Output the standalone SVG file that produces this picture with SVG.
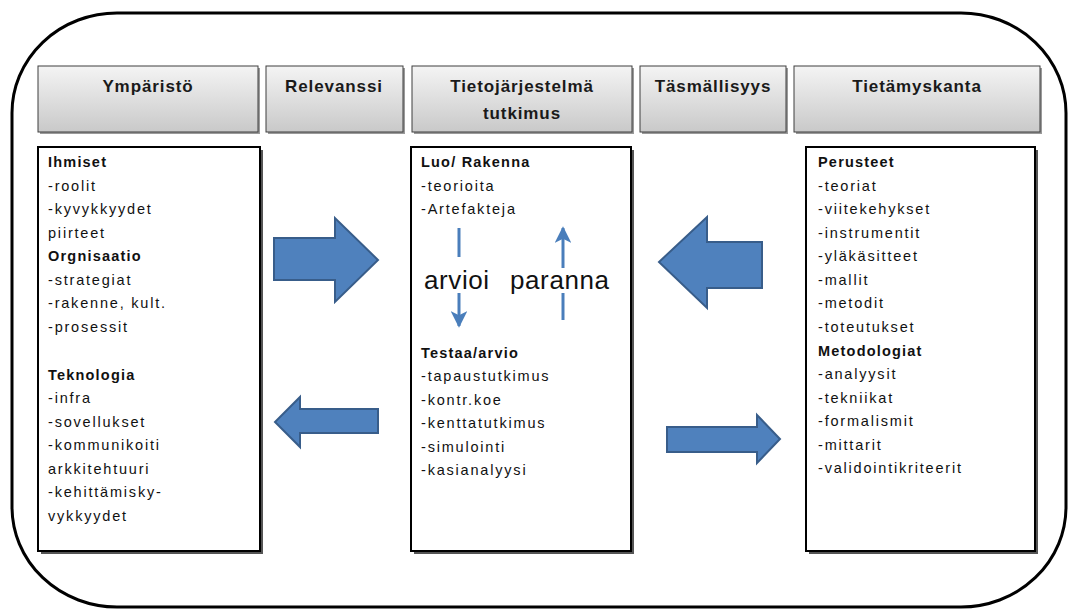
<svg xmlns="http://www.w3.org/2000/svg" width="1068" height="612" viewBox="0 0 1068 612">
  <defs>
    <linearGradient id="hdrFill" x1="0" y1="0" x2="0" y2="1">
      <stop offset="0" stop-color="#f4f4f4"/>
      <stop offset="1" stop-color="#c9c9c9"/>
    </linearGradient>
    <marker id="blueHead" viewBox="0 0 10 10" refX="9" refY="5" markerWidth="5.5" markerHeight="5.5" orient="auto" markerUnits="strokeWidth">
      <path d="M0,0 L10,5 L0,10 L2.5,5 z" fill="#4a7ebb"/>
    </marker>
  </defs>
  <style>
    .frame { fill: #ffffff; stroke: #000000; stroke-width: 3; }
    .hdr { fill: url(#hdrFill); stroke: #3f3f3f; stroke-width: 1; }
    .hdrShadow { fill: #9a9a9a; }
    .hdrText { font-family: "Liberation Sans", Arial, sans-serif; font-size: 17px; font-weight: bold; letter-spacing: 0.9px; fill: #1a1a1a; text-anchor: middle; }
    .box { fill: #ffffff; stroke: #000000; stroke-width: 2; }
    .boxShadow { fill: #555555; }
    .txt { font-family: "Liberation Sans", Arial, sans-serif; font-size: 14.5px; letter-spacing: 1.8px; fill: #111111; }
    .bold { font-weight: bold; letter-spacing: 1.2px; }
    .big { font-family: "Liberation Sans", Arial, sans-serif; font-size: 26px; letter-spacing: 0.6px; fill: #111111; }
    .blockArrow { fill: #4f81bd; stroke: #385d8a; stroke-width: 2; stroke-linejoin: miter; }
    .thinArrow { stroke: #4a7ebb; stroke-width: 3; fill: none; }
  </style>

  <!-- outer rounded frame -->
  <rect class="frame" x="12" y="13" width="1054" height="594" rx="105" ry="100"/>

  <!-- column headers -->
  <g id="hdr-ymparisto">
    <rect class="hdrShadow" x="40" y="68" width="220" height="66"/>
    <rect class="hdr" x="38" y="66" width="220" height="66"/>
    <text class="hdrText" x="148" y="92">Ympäristö</text>
  </g>
  <g id="hdr-relevanssi">
    <rect class="hdrShadow" x="268" y="68" width="137" height="66"/>
    <rect class="hdr" x="266" y="66" width="137" height="66"/>
    <text class="hdrText" x="334" y="92">Relevanssi</text>
  </g>
  <g id="hdr-tutkimus">
    <rect class="hdrShadow" x="414" y="68" width="220" height="66"/>
    <rect class="hdr" x="412" y="66" width="220" height="66"/>
    <text class="hdrText" x="522" y="92">Tietojärjestelmä</text>
    <text class="hdrText" x="522" y="119">tutkimus</text>
  </g>
  <g id="hdr-tasmallisyys">
    <rect class="hdrShadow" x="642" y="68" width="146" height="66"/>
    <rect class="hdr" x="640" y="66" width="146" height="66"/>
    <text class="hdrText" x="713" y="92">Täsmällisyys</text>
  </g>
  <g id="hdr-tietamyskanta">
    <rect class="hdrShadow" x="796" y="68" width="246" height="66"/>
    <rect class="hdr" x="794" y="66" width="246" height="66"/>
    <text class="hdrText" x="917" y="92">Tietämyskanta</text>
  </g>

  <!-- environment column -->
  <g id="box-ymparisto">
    <rect class="boxShadow" x="41" y="150" width="222" height="404"/>
    <rect class="box" x="38" y="147" width="222" height="404"/>
    <text class="txt bold" x="48" y="167">Ihmiset</text>
    <text class="txt" x="48" y="191">-roolit</text>
    <text class="txt" x="48" y="214">-kyvykkyydet</text>
    <text class="txt" x="48" y="238">piirteet</text>
    <text class="txt bold" x="48" y="261">Orgnisaatio</text>
    <text class="txt" x="48" y="285">-strategiat</text>
    <text class="txt" x="48" y="308">-rakenne, kult.</text>
    <text class="txt" x="48" y="332">-prosessit</text>
    <text class="txt bold" x="48" y="380">Teknologia</text>
    <text class="txt" x="48" y="403">-infra</text>
    <text class="txt" x="48" y="427">-sovellukset</text>
    <text class="txt" x="48" y="450">-kommunikoiti</text>
    <text class="txt" x="48" y="474">arkkitehtuuri</text>
    <text class="txt" x="48" y="497">-kehittämisky-</text>
    <text class="txt" x="48" y="521">vykkyydet</text>
  </g>

  <!-- research column -->
  <g id="box-tutkimus">
    <rect class="boxShadow" x="414" y="150" width="220" height="404"/>
    <rect class="box" x="411" y="147" width="220" height="404"/>
    <text class="txt bold" x="421" y="167">Luo/ Rakenna</text>
    <text class="txt" x="421" y="191">-teorioita</text>
    <text class="txt" x="421" y="214">-Artefakteja</text>
    <text class="big" x="424" y="289">arvioi</text>
    <text class="big" x="510" y="289">paranna</text>
    <text class="txt bold" x="421" y="358">Testaa/arvio</text>
    <text class="txt" x="421" y="381">-tapaustutkimus</text>
    <text class="txt" x="421" y="405">-kontr.koe</text>
    <text class="txt" x="421" y="428">-kenttatutkimus</text>
    <text class="txt" x="421" y="452">-simulointi</text>
    <text class="txt" x="421" y="475">-kasianalyysi</text>
  </g>

  <!-- knowledge base column -->
  <g id="box-tietamyskanta">
    <rect class="boxShadow" x="809" y="150" width="229" height="404"/>
    <rect class="box" x="806" y="147" width="229" height="404"/>
    <text class="txt bold" x="818" y="167">Perusteet</text>
    <text class="txt" x="818" y="191">-teoriat</text>
    <text class="txt" x="818" y="214">-viitekehykset</text>
    <text class="txt" x="818" y="238">-instrumentit</text>
    <text class="txt" x="818" y="261">-yläkäsitteet</text>
    <text class="txt" x="818" y="285">-mallit</text>
    <text class="txt" x="818" y="308">-metodit</text>
    <text class="txt" x="818" y="332">-toteutukset</text>
    <text class="txt bold" x="818" y="356">Metodologiat</text>
    <text class="txt" x="818" y="379">-analyysit</text>
    <text class="txt" x="818" y="403">-tekniikat</text>
    <text class="txt" x="818" y="426">-formalismit</text>
    <text class="txt" x="818" y="450">-mittarit</text>
    <text class="txt" x="818" y="473">-validointikriteerit</text>
  </g>

  <!-- connectors -->
  <g id="connectors">
    <!-- environment to research -->
    <path class="blockArrow" d="M274,238 L335,238 L335,218 L378,260 L335,302 L335,280 L274,280 Z"/>
    <!-- research back to environment -->
    <path class="blockArrow" d="M378,409 L300,409 L300,397 L275,422 L300,447 L300,433 L378,433 Z"/>
    <!-- knowledge base to research -->
    <path class="blockArrow" d="M762,242 L707,242 L707,217 L659,262 L707,308 L707,288 L762,288 Z"/>
    <!-- research to knowledge base -->
    <path class="blockArrow" d="M667,427 L757,427 L757,415 L780,439 L757,463 L757,452 L667,452 Z"/>

    <!-- evaluate loop inside the research column -->
    <line class="thinArrow" x1="459" y1="228" x2="459" y2="257"/>
    <line class="thinArrow" x1="459" y1="293" x2="459" y2="326" marker-end="url(#blueHead)"/>
    <line class="thinArrow" x1="563" y1="320" x2="563" y2="293"/>
    <line class="thinArrow" x1="563" y1="268" x2="563" y2="228" marker-end="url(#blueHead)"/>
  </g>
</svg>
